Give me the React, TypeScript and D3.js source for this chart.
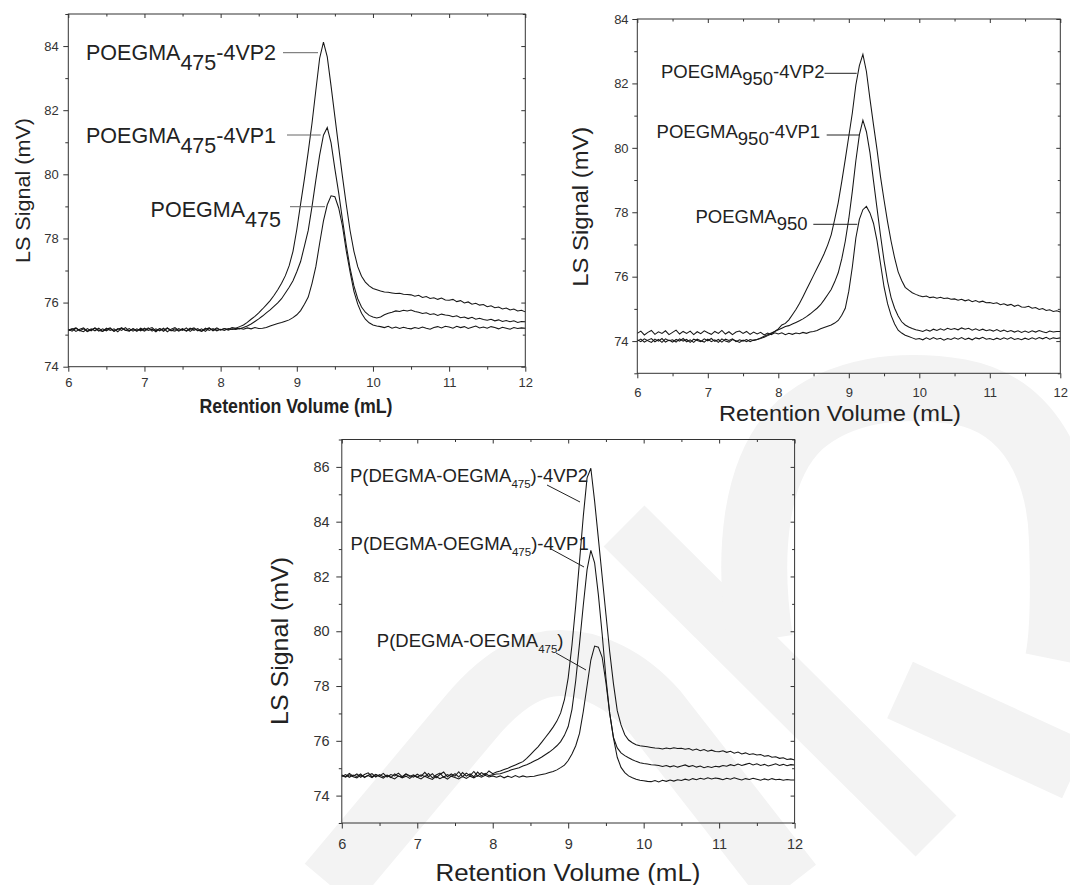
import React, { useEffect, useRef } from "react";
import { select, scaleLinear, axisBottom, axisLeft, axisTop, axisRight, line } from "d3";

// retention volume grid (mL), shared by every trace
const retentionVolume: number[] = [
  6, 6.05, 6.1, 6.15, 6.2, 6.25, 6.3, 6.35, 6.4, 6.45,
  6.5, 6.55, 6.6, 6.65, 6.7, 6.75, 6.8, 6.85, 6.9, 6.95,
  7, 7.05, 7.1, 7.15, 7.2, 7.25, 7.3, 7.35, 7.4, 7.45,
  7.5, 7.55, 7.6, 7.65, 7.7, 7.75, 7.8, 7.85, 7.9, 7.95,
  8, 8.05, 8.1, 8.15, 8.2, 8.25, 8.3, 8.35, 8.4, 8.45,
  8.5, 8.55, 8.6, 8.65, 8.7, 8.75, 8.8, 8.85, 8.9, 8.95,
  9, 9.05, 9.1, 9.15, 9.2, 9.25, 9.3, 9.35, 9.4, 9.45,
  9.5, 9.55, 9.6, 9.65, 9.7, 9.75, 9.8, 9.85, 9.9, 9.95,
  10, 10.05, 10.1, 10.15, 10.2, 10.25, 10.3, 10.35, 10.4, 10.45,
  10.5, 10.55, 10.6, 10.65, 10.7, 10.75, 10.8, 10.85, 10.9, 10.95,
  11, 11.05, 11.1, 11.15, 11.2, 11.25, 11.3, 11.35, 11.4, 11.45,
  11.5, 11.55, 11.6, 11.65, 11.7, 11.75, 11.8, 11.85, 11.9, 11.95,
  12,
];

const xMajor = [6, 7, 8, 9, 10, 11, 12];
const xMinor = [6.5, 7.5, 8.5, 9.5, 10.5, 11.5];

// LS signal (mV) — POEGMA475 panel
const p475_4vp2: number[] = [
  75.14, 75.19, 75.1, 75.17, 75.21, 75.11, 75.18, 75.12, 75.2, 75.1,
  75.17, 75.21, 75.11, 75.19, 75.13, 75.22, 75.12, 75.18, 75.1, 75.2,
  75.14, 75.21, 75.11, 75.18, 75.12, 75.2, 75.09, 75.17, 75.22, 75.13,
  75.19, 75.11, 75.17, 75.21, 75.12, 75.18, 75.1, 75.2, 75.14, 75.21,
  75.14, 75.19, 75.16, 75.22, 75.2, 75.25, 75.3, 75.38, 75.48, 75.57,
  75.68, 75.8, 75.93, 76.06, 76.22, 76.4, 76.6, 76.84, 77.15, 77.6,
  78.28, 79.08, 79.86, 80.7, 81.6, 82.62, 83.62, 84.12, 83.66, 82.75,
  81.8, 80.85, 79.92, 79.05, 78.24, 77.6, 77.12, 76.82, 76.64, 76.52,
  76.44, 76.4, 76.36, 76.33, 76.32, 76.3, 76.28, 76.29, 76.26, 76.25,
  76.24, 76.2, 76.23, 76.16, 76.19, 76.13, 76.15, 76.1, 76.14, 76.08,
  76.07, 76.1, 76.03, 76.06, 75.99, 76.02, 75.95, 75.98, 75.92, 75.94,
  75.87, 75.9, 75.84, 75.86, 75.8, 75.83, 75.77, 75.8, 75.74, 75.76,
  75.71,
];
const p475_4vp1: number[] = [
  75.17, 75.11, 75.2, 75.13, 75.09, 75.19, 75.12, 75.21, 75.14, 75.1,
  75.2, 75.13, 75.18, 75.09, 75.21, 75.14, 75.11, 75.19, 75.13, 75.17,
  75.11, 75.18, 75.22, 75.12, 75.19, 75.1, 75.2, 75.14, 75.11, 75.19,
  75.13, 75.21, 75.1, 75.18, 75.14, 75.11, 75.2, 75.13, 75.19, 75.12,
  75.17, 75.13, 75.19, 75.16, 75.2, 75.18, 75.22, 75.27, 75.33, 75.41,
  75.49, 75.58, 75.68, 75.77, 75.88, 75.99, 76.12, 76.3, 76.48, 76.68,
  76.96, 77.28, 77.76, 78.25, 79.0, 79.82, 80.6, 81.22, 81.46, 80.98,
  80.17, 79.42, 78.58, 77.78, 77.07, 76.52, 76.12, 75.86, 75.7, 75.6,
  75.55, 75.52, 75.55, 75.62, 75.67, 75.7, 75.74, 75.72, 75.76, 75.74,
  75.77, 75.72, 75.7, 75.66, 75.68, 75.63, 75.65, 75.6, 75.64, 75.61,
  75.6, 75.56, 75.59, 75.53, 75.55, 75.5, 75.54, 75.48, 75.51, 75.47,
  75.45, 75.48, 75.43, 75.46, 75.41, 75.44, 75.4, 75.43, 75.38, 75.41,
  75.4,
];
const p475: number[] = [
  75.12, 75.17, 75.21, 75.12, 75.18, 75.09, 75.15, 75.2, 75.11, 75.18,
  75.12, 75.19, 75.1, 75.17, 75.21, 75.13, 75.19, 75.11, 75.18, 75.12,
  75.2, 75.13, 75.17, 75.09, 75.19, 75.14, 75.21, 75.12, 75.18, 75.11,
  75.17, 75.12, 75.2, 75.13, 75.19, 75.1, 75.17, 75.21, 75.12, 75.18,
  75.15, 75.19, 75.14, 75.18, 75.16, 75.2, 75.17, 75.21, 75.18, 75.22,
  75.19, 75.2, 75.22, 75.27, 75.31, 75.35, 75.38, 75.42, 75.46, 75.53,
  75.62, 75.75, 75.95, 76.17, 76.6, 77.12, 77.85, 78.55, 79.05, 79.33,
  79.3, 78.95, 78.38, 77.6, 76.95, 76.35, 75.95, 75.67, 75.48, 75.37,
  75.3, 75.27, 75.25, 75.22, 75.26, 75.2, 75.24, 75.19, 75.23, 75.2,
  75.18, 75.22, 75.19, 75.24, 75.2, 75.17, 75.22, 75.25, 75.21, 75.26,
  75.24, 75.2, 75.26, 75.22, 75.25, 75.19, 75.23, 75.27, 75.21, 75.24,
  75.2, 75.25, 75.22, 75.18, 75.23, 75.2, 75.17, 75.22, 75.19, 75.21,
  75.2,
];

// LS signal (mV) — POEGMA950 panel
const p950_4vp2: number[] = [
  74.0, 74.06, 73.97, 74.03, 74.08, 73.98, 74.05, 73.96, 74.07, 74.01,
  74.04, 73.97, 74.07, 74.0, 74.05, 73.96, 74.06, 74.02, 73.98, 74.07,
  74.01, 74.08, 73.99, 74.05, 73.97, 74.06, 74.02, 74.07, 73.98, 74.04,
  74.0, 74.05, 73.98, 74.03, 74.05, 74.08, 74.12, 74.17, 74.22, 74.3,
  74.38, 74.5, 74.55, 74.66, 74.82, 74.98, 75.17, 75.38, 75.6, 75.82,
  76.04, 76.26, 76.48, 76.71, 76.98, 77.3, 77.78, 78.3, 78.95, 79.64,
  80.36, 81.08, 81.95, 82.55, 82.9, 82.37, 81.52, 80.72, 79.95, 79.1,
  78.38, 77.7, 77.1, 76.58, 76.15, 75.88, 75.67, 75.58, 75.5, 75.45,
  75.41, 75.38, 75.4, 75.35, 75.37, 75.33, 75.36, 75.32, 75.34, 75.3,
  75.31, 75.27, 75.3, 75.25, 75.28, 75.22, 75.26, 75.21, 75.24, 75.19,
  75.2, 75.17, 75.19, 75.13, 75.16, 75.11, 75.14, 75.08, 75.12, 75.06,
  75.05, 75.08, 75.02, 75.04, 74.98, 75.01, 74.95, 74.97, 74.92, 74.94,
  74.9,
];
const p950_4vp1: number[] = [
  74.04, 73.98, 74.07, 74.01, 73.96, 74.06, 74.0, 74.08, 73.97, 74.03,
  73.97, 74.05, 74.0, 74.08, 73.98, 74.04, 73.96, 74.06, 74.01, 73.97,
  74.06, 73.98, 74.04, 73.96, 74.07, 74.0, 73.97, 74.05, 74.01, 73.96,
  74.03, 73.98, 74.05, 74.02, 74.05, 74.1, 74.15, 74.2, 74.25, 74.3,
  74.35, 74.4, 74.45, 74.48, 74.53, 74.58, 74.63, 74.69, 74.76, 74.84,
  74.93, 75.02, 75.13, 75.28, 75.44, 75.6, 75.84, 76.12, 76.55, 77.1,
  77.8, 78.65, 79.6, 80.4, 80.86, 80.5, 79.85, 78.98, 78.13, 77.28,
  76.5, 75.85, 75.35, 75.02, 74.78, 74.6, 74.5, 74.44, 74.39, 74.35,
  74.33, 74.3, 74.35, 74.31, 74.37, 74.33, 74.38, 74.34, 74.4, 74.36,
  74.39, 74.35, 74.41, 74.37, 74.4, 74.34, 74.38, 74.33, 74.37, 74.32,
  74.35, 74.31, 74.36, 74.3, 74.34, 74.29, 74.33, 74.28, 74.32, 74.27,
  74.31, 74.27, 74.32, 74.28, 74.33, 74.29, 74.26, 74.31, 74.28, 74.3,
  74.3,
];
const p950: number[] = [
  74.24, 74.31, 74.19, 74.27, 74.33, 74.21, 74.29, 74.24, 74.32, 74.2,
  74.27, 74.34, 74.22, 74.3, 74.24, 74.31, 74.2, 74.29, 74.23, 74.32,
  74.26, 74.21, 74.3, 74.24, 74.33, 74.22, 74.29, 74.2, 74.28, 74.31,
  74.24, 74.3, 74.21, 74.28, 74.22, 74.27, 74.19, 74.25, 74.2, 74.26,
  74.22, 74.26, 74.2, 74.24, 74.21, 74.25, 74.23, 74.27, 74.24, 74.28,
  74.3, 74.33, 74.38, 74.42, 74.46, 74.5, 74.56, 74.64, 74.8, 75.02,
  75.55, 76.3, 77.2, 77.78, 78.08, 78.18, 77.98, 77.66, 77.12, 76.4,
  75.68, 75.16, 74.8, 74.53, 74.34, 74.25, 74.18, 74.14, 74.1, 74.06,
  74.08, 74.04, 74.1, 74.05, 74.11, 74.06, 74.09, 74.03, 74.08, 74.05,
  74.1, 74.06, 74.11, 74.05, 74.09, 74.04, 74.1, 74.07, 74.12, 74.06,
  74.08, 74.04, 74.09, 74.05, 74.1, 74.06, 74.11, 74.05, 74.08, 74.04,
  74.09, 74.05, 74.1, 74.06, 74.11, 74.07, 74.12, 74.06, 74.1, 74.08,
  74.1,
];

// LS signal (mV) — P(DEGMA-OEGMA475) panel
const pd_4vp2: number[] = [
  74.75, 74.69, 74.81, 74.71, 74.79, 74.67, 74.77, 74.83, 74.69, 74.78,
  74.71, 74.81, 74.68, 74.77, 74.72, 74.82, 74.69, 74.79, 74.73, 74.67,
  74.78, 74.7, 74.85, 74.69, 74.8, 74.65, 74.77, 74.86, 74.69, 74.79,
  74.71, 74.87, 74.69, 74.82, 74.73, 74.88, 74.71, 74.84, 74.75, 74.9,
  74.8, 74.86, 74.9, 74.95, 75.0, 75.06, 75.12, 75.18, 75.24, 75.36,
  75.5, 75.64, 75.78, 75.95, 76.13, 76.31, 76.5, 76.72, 77.02, 77.5,
  78.3, 79.5, 80.95, 82.55, 84.2, 85.6, 85.95, 84.75, 83.38, 82.0,
  80.62, 79.25, 78.08, 77.1, 76.58, 76.22, 76.03, 75.93, 75.86, 75.82,
  75.8, 75.78, 75.76, 75.74, 75.73, 75.7, 75.74, 75.71, 75.75, 75.72,
  75.73, 75.69, 75.72, 75.66, 75.7, 75.64, 75.68, 75.62, 75.66, 75.61,
  75.6, 75.64, 75.58, 75.62, 75.55, 75.59, 75.52, 75.56, 75.5, 75.53,
  75.48, 75.5, 75.44, 75.46, 75.4, 75.42, 75.36, 75.38, 75.32, 75.34,
  75.3,
];
const pd_4vp1: number[] = [
  74.7, 74.77, 74.67, 74.75, 74.7, 74.79, 74.66, 74.74, 74.8, 74.68,
  74.77, 74.69, 74.75, 74.66, 74.79, 74.71, 74.68, 74.78, 74.7, 74.76,
  74.67, 74.76, 74.69, 74.81, 74.65, 74.75, 74.82, 74.67, 74.77, 74.7,
  74.8, 74.68, 74.84, 74.71, 74.79, 74.69, 74.86, 74.72, 74.81, 74.73,
  74.76, 74.79, 74.8, 74.84, 74.89, 74.94, 74.98, 75.02, 75.08, 75.13,
  75.19, 75.26, 75.33, 75.41, 75.5, 75.59, 75.7, 75.82, 75.97, 76.2,
  76.52, 77.15, 78.2, 79.55, 80.95, 82.25, 82.95, 82.5, 81.33, 79.9,
  78.3, 77.0, 76.12, 75.74, 75.56, 75.46, 75.38, 75.31, 75.25, 75.2,
  75.17, 75.15, 75.13, 75.12, 75.1, 75.06, 75.1, 75.05, 75.09, 75.04,
  75.08, 75.12, 75.06, 75.1, 75.04, 75.08, 75.02, 75.06, 75.03, 75.07,
  75.05, 75.1, 75.07, 75.13, 75.09, 75.15, 75.1, 75.14, 75.18, 75.12,
  75.16, 75.1, 75.14, 75.08, 75.12, 75.16, 75.1, 75.14, 75.09, 75.13,
  75.12,
];
const pd: number[] = [
  74.73, 74.67, 74.76, 74.69, 74.65, 74.75, 74.68, 74.73, 74.66, 74.76,
  74.7, 74.64, 74.74, 74.67, 74.61, 74.72, 74.65, 74.71, 74.63, 74.73,
  74.67, 74.61, 74.71, 74.64, 74.59, 74.7, 74.62, 74.69, 74.6, 74.71,
  74.66, 74.61, 74.7, 74.63, 74.71, 74.65, 74.73, 74.67, 74.74, 74.68,
  74.72, 74.67, 74.72, 74.65, 74.71, 74.66, 74.73, 74.67, 74.72, 74.68,
  74.7, 74.71, 74.74, 74.77, 74.8, 74.84, 74.88, 74.94, 75.02, 75.11,
  75.28, 75.52, 75.82, 76.27, 77.07, 78.01, 78.95, 79.46, 79.42, 79.05,
  78.12, 77.0, 76.1, 75.4, 75.03, 74.84, 74.72, 74.65, 74.6, 74.56,
  74.54, 74.52, 74.51, 74.55, 74.5, 74.56, 74.52, 74.57, 74.53, 74.58,
  74.55, 74.6, 74.56, 74.62, 74.58, 74.63, 74.6, 74.65, 74.61, 74.64,
  74.62, 74.58, 74.63, 74.6, 74.65, 74.61, 74.57, 74.62, 74.59, 74.63,
  74.6, 74.56, 74.61, 74.57, 74.62, 74.58, 74.6, 74.56, 74.59, 74.57,
  74.57,
];

const FONT = "'Liberation Sans', Arial, Helvetica, sans-serif";

type Label = { x: number; y: number; name: string; sub: string; tail: string; lead: number[] };
type Title = { x: number; y: number; size: number; len: number; bold?: boolean };
type PanelCfg = {
  left: number; right: number; top: number; bottom: number;
  yDomain: [number, number]; yMajor: number[]; yMinor: number[];
  tickFont: number; tickLen: number; xPad: number; yPad: number;
  xTitle: Title; yTitle: Title;
  labelSize: number; subSize: number; subDy: number; leadColor: string;
  labels: Label[];
  series: number[][];
};

const panels: PanelCfg[] = [
  {
    left: 68.3, right: 525.3, top: 14, bottom: 366.7,
    yDomain: [74, 85], yMajor: [74, 76, 78, 80, 82, 84], yMinor: [75, 77, 79, 81, 83, 85],
    tickFont: 13, tickLen: 5, xPad: 5.8, yPad: 4.5,
    xTitle: { x: 296, y: 413, size: 19.5, len: 193, bold: true },
    yTitle: { x: 29.5, y: 190.5, size: 21, len: 145 },
    labelSize: 21.5, subSize: 21.5, subDy: 10, leadColor: "#666",
    labels: [
      { x: 86, y: 60, name: "POEGMA", sub: "475", tail: "-4VP2", lead: [283, 52.7, 318, 52.7] },
      { x: 86, y: 143.3, name: "POEGMA", sub: "475", tail: "-4VP1", lead: [287, 135, 320.7, 135] },
      { x: 150.6, y: 216.7, name: "POEGMA", sub: "475", tail: "", lead: [290, 206.7, 325, 206.7] },
    ],
    series: [p475_4vp2, p475_4vp1, p475],
  },
  {
    left: 637.3, right: 1060.3, top: 19, bottom: 373.3,
    yDomain: [73, 84], yMajor: [74, 76, 78, 80, 82, 84], yMinor: [73, 75, 77, 79, 81, 83],
    tickFont: 13, tickLen: 5, xPad: 9, yPad: 3.7,
    xTitle: { x: 840, y: 420.7, size: 22, len: 242 },
    yTitle: { x: 587.7, y: 206.7, size: 22, len: 160 },
    labelSize: 18.5, subSize: 18.5, subDy: 7, leadColor: "#222",
    labels: [
      { x: 661, y: 78.3, name: "POEGMA", sub: "950", tail: "-4VP2", lead: [824.5, 73.3, 856.7, 73.3] },
      { x: 656.6, y: 138.3, name: "POEGMA", sub: "950", tail: "-4VP1", lead: [826.7, 135, 859.3, 135] },
      { x: 695.5, y: 223.3, name: "POEGMA", sub: "950", tail: "", lead: [813.3, 224.3, 857.3, 224.3] },
    ],
    series: [p950_4vp2, p950_4vp1, p950],
  },
  {
    left: 341.8, right: 794.6, top: 439.5, bottom: 823,
    yDomain: [73, 87], yMajor: [74, 76, 78, 80, 82, 84, 86], yMinor: [73, 75, 77, 79, 81, 83, 85, 87],
    tickFont: 14.5, tickLen: 5.5, xPad: 10, yPad: 6.7,
    xTitle: { x: 568, y: 881, size: 23.5, len: 265 },
    yTitle: { x: 287.5, y: 641, size: 24, len: 168 },
    labelSize: 18.5, subSize: 11.5, subDy: 6, leadColor: "#222",
    labels: [
      { x: 350, y: 482, name: "P(DEGMA-OEGMA", sub: "475", tail: ")-4VP2", lead: [547, 485, 580, 502] },
      { x: 350.6, y: 550, name: "P(DEGMA-OEGMA", sub: "475", tail: ")-4VP1", lead: [551, 549, 584, 567] },
      { x: 376.8, y: 647, name: "P(DEGMA-OEGMA", sub: "475", tail: ")", lead: [556, 653, 586, 670] },
    ],
    series: [pd_4vp2, pd_4vp1, pd],
  },
];

const Panel: React.FC<{ cfg: PanelCfg }> = ({ cfg }) => {
  const axesRef = useRef<SVGGElement>(null);
  const x = scaleLinear().domain([6, 12]).range([cfg.left, cfg.right]);
  const y = scaleLinear().domain(cfg.yDomain).range([cfg.bottom, cfg.top]);

  useEffect(() => {
    const g = select(axesRef.current);
    g.selectAll("*").remove();
    const look = (sel: any) => {
      sel.attr("font-family", FONT).attr("font-size", cfg.tickFont).style("color", "#333");
      sel.select(".domain").remove();
    };
    const none = () => "";
    const num = (d: any) => String(d);
    const bottom = `translate(0,${cfg.bottom})`;
    const top = `translate(0,${cfg.top})`;
    const left = `translate(${cfg.left},0)`;
    const right = `translate(${cfg.right},0)`;

    g.append("g").attr("transform", bottom)
      .call(axisBottom(x).tickValues(xMajor).tickSize(cfg.tickLen).tickPadding(cfg.xPad).tickFormat(num)).call(look);
    g.append("g").attr("transform", bottom)
      .call(axisBottom(x).tickValues(xMinor).tickSize(3).tickFormat(none)).call(look);
    g.append("g").attr("transform", left)
      .call(axisLeft(y).tickValues(cfg.yMajor).tickSize(cfg.tickLen).tickPadding(cfg.yPad).tickFormat(num)).call(look);
    g.append("g").attr("transform", left)
      .call(axisLeft(y).tickValues(cfg.yMinor).tickSize(3).tickFormat(none)).call(look);
    // mirrored inward ticks on top and right
    g.append("g").attr("transform", top)
      .call(axisTop(x).tickValues(xMajor).tickSize(-4).tickFormat(none)).call(look);
    g.append("g").attr("transform", top)
      .call(axisTop(x).tickValues(xMinor).tickSize(-2.5).tickFormat(none)).call(look);
    g.append("g").attr("transform", right)
      .call(axisRight(y).tickValues(cfg.yMajor).tickSize(-4).tickFormat(none)).call(look);
    g.append("g").attr("transform", right)
      .call(axisRight(y).tickValues(cfg.yMinor).tickSize(-2.5).tickFormat(none)).call(look);
  }, [cfg]);

  const trace = line<number>()
    .x((_, i) => x(retentionVolume[i]))
    .y((d) => y(d));

  const { xTitle, yTitle } = cfg;
  return (
    <g>
      {cfg.series.map((s, i) => (
        <path key={i} d={trace(s.slice(0, retentionVolume.length)) || ""} fill="none" stroke="#161616" strokeWidth={1.05} />
      ))}
      <rect x={cfg.left} y={cfg.top} width={cfg.right - cfg.left} height={cfg.bottom - cfg.top}
        fill="none" stroke="#333" strokeWidth={1} />
      <g ref={axesRef} />
      {cfg.labels.map((l, i) => (
        <g key={i}>
          <line x1={l.lead[0]} y1={l.lead[1]} x2={l.lead[2]} y2={l.lead[3]} stroke={cfg.leadColor} strokeWidth={1} />
          <text x={l.x} y={l.y} fontFamily={FONT} fontSize={cfg.labelSize} fill="#222">
            {l.name}
            <tspan dy={cfg.subDy} fontSize={cfg.subSize}>{l.sub}</tspan>
            {l.tail && <tspan dy={-cfg.subDy} fontSize={cfg.labelSize}>{l.tail}</tspan>}
          </text>
        </g>
      ))}
      <text x={xTitle.x} y={xTitle.y} textAnchor="middle" fontFamily={FONT} fontSize={xTitle.size}
        fontWeight={xTitle.bold ? "bold" : "normal"} fill="#222"
        textLength={xTitle.len} lengthAdjust="spacingAndGlyphs">
        Retention Volume (mL)
      </text>
      <text transform={`translate(${yTitle.x},${yTitle.y}) rotate(-90)`} textAnchor="middle"
        fontFamily={FONT} fontSize={yTitle.size} fill="#222"
        textLength={yTitle.len} lengthAdjust="spacingAndGlyphs">
        LS Signal (mV)
      </text>
    </g>
  );
};

const App: React.FC = () => (
  <div style={{ position: "absolute", left: 0, top: 0 }}>
    <svg width={1070} height={885} style={{ display: "block", background: "white" }}>
      {/* faint publisher watermark behind the figure */}
      <g fill="none" stroke="#f3f3f3">
        <line x1={624} y1={526} x2={936} y2={836} strokeWidth={58} />
        <path d="M 330 885 L 470 718 C 505 676, 535 663, 560 663 C 590 663, 625 678, 655 712 L 790 885" strokeWidth={66} />
        <path d="M 760 640 C 748 560, 752 470, 800 425 C 840 390, 900 382, 960 392 C 1030 405, 1060 470, 1062 540 C 1064 600, 1062 640, 1058 660" strokeWidth={66} />
        <path d="M 900 690 L 1075 770" strokeWidth={62} />
      </g>
      {panels.map((p, i) => (
        <Panel key={i} cfg={p} />
      ))}
    </svg>
  </div>
);

export default App;
